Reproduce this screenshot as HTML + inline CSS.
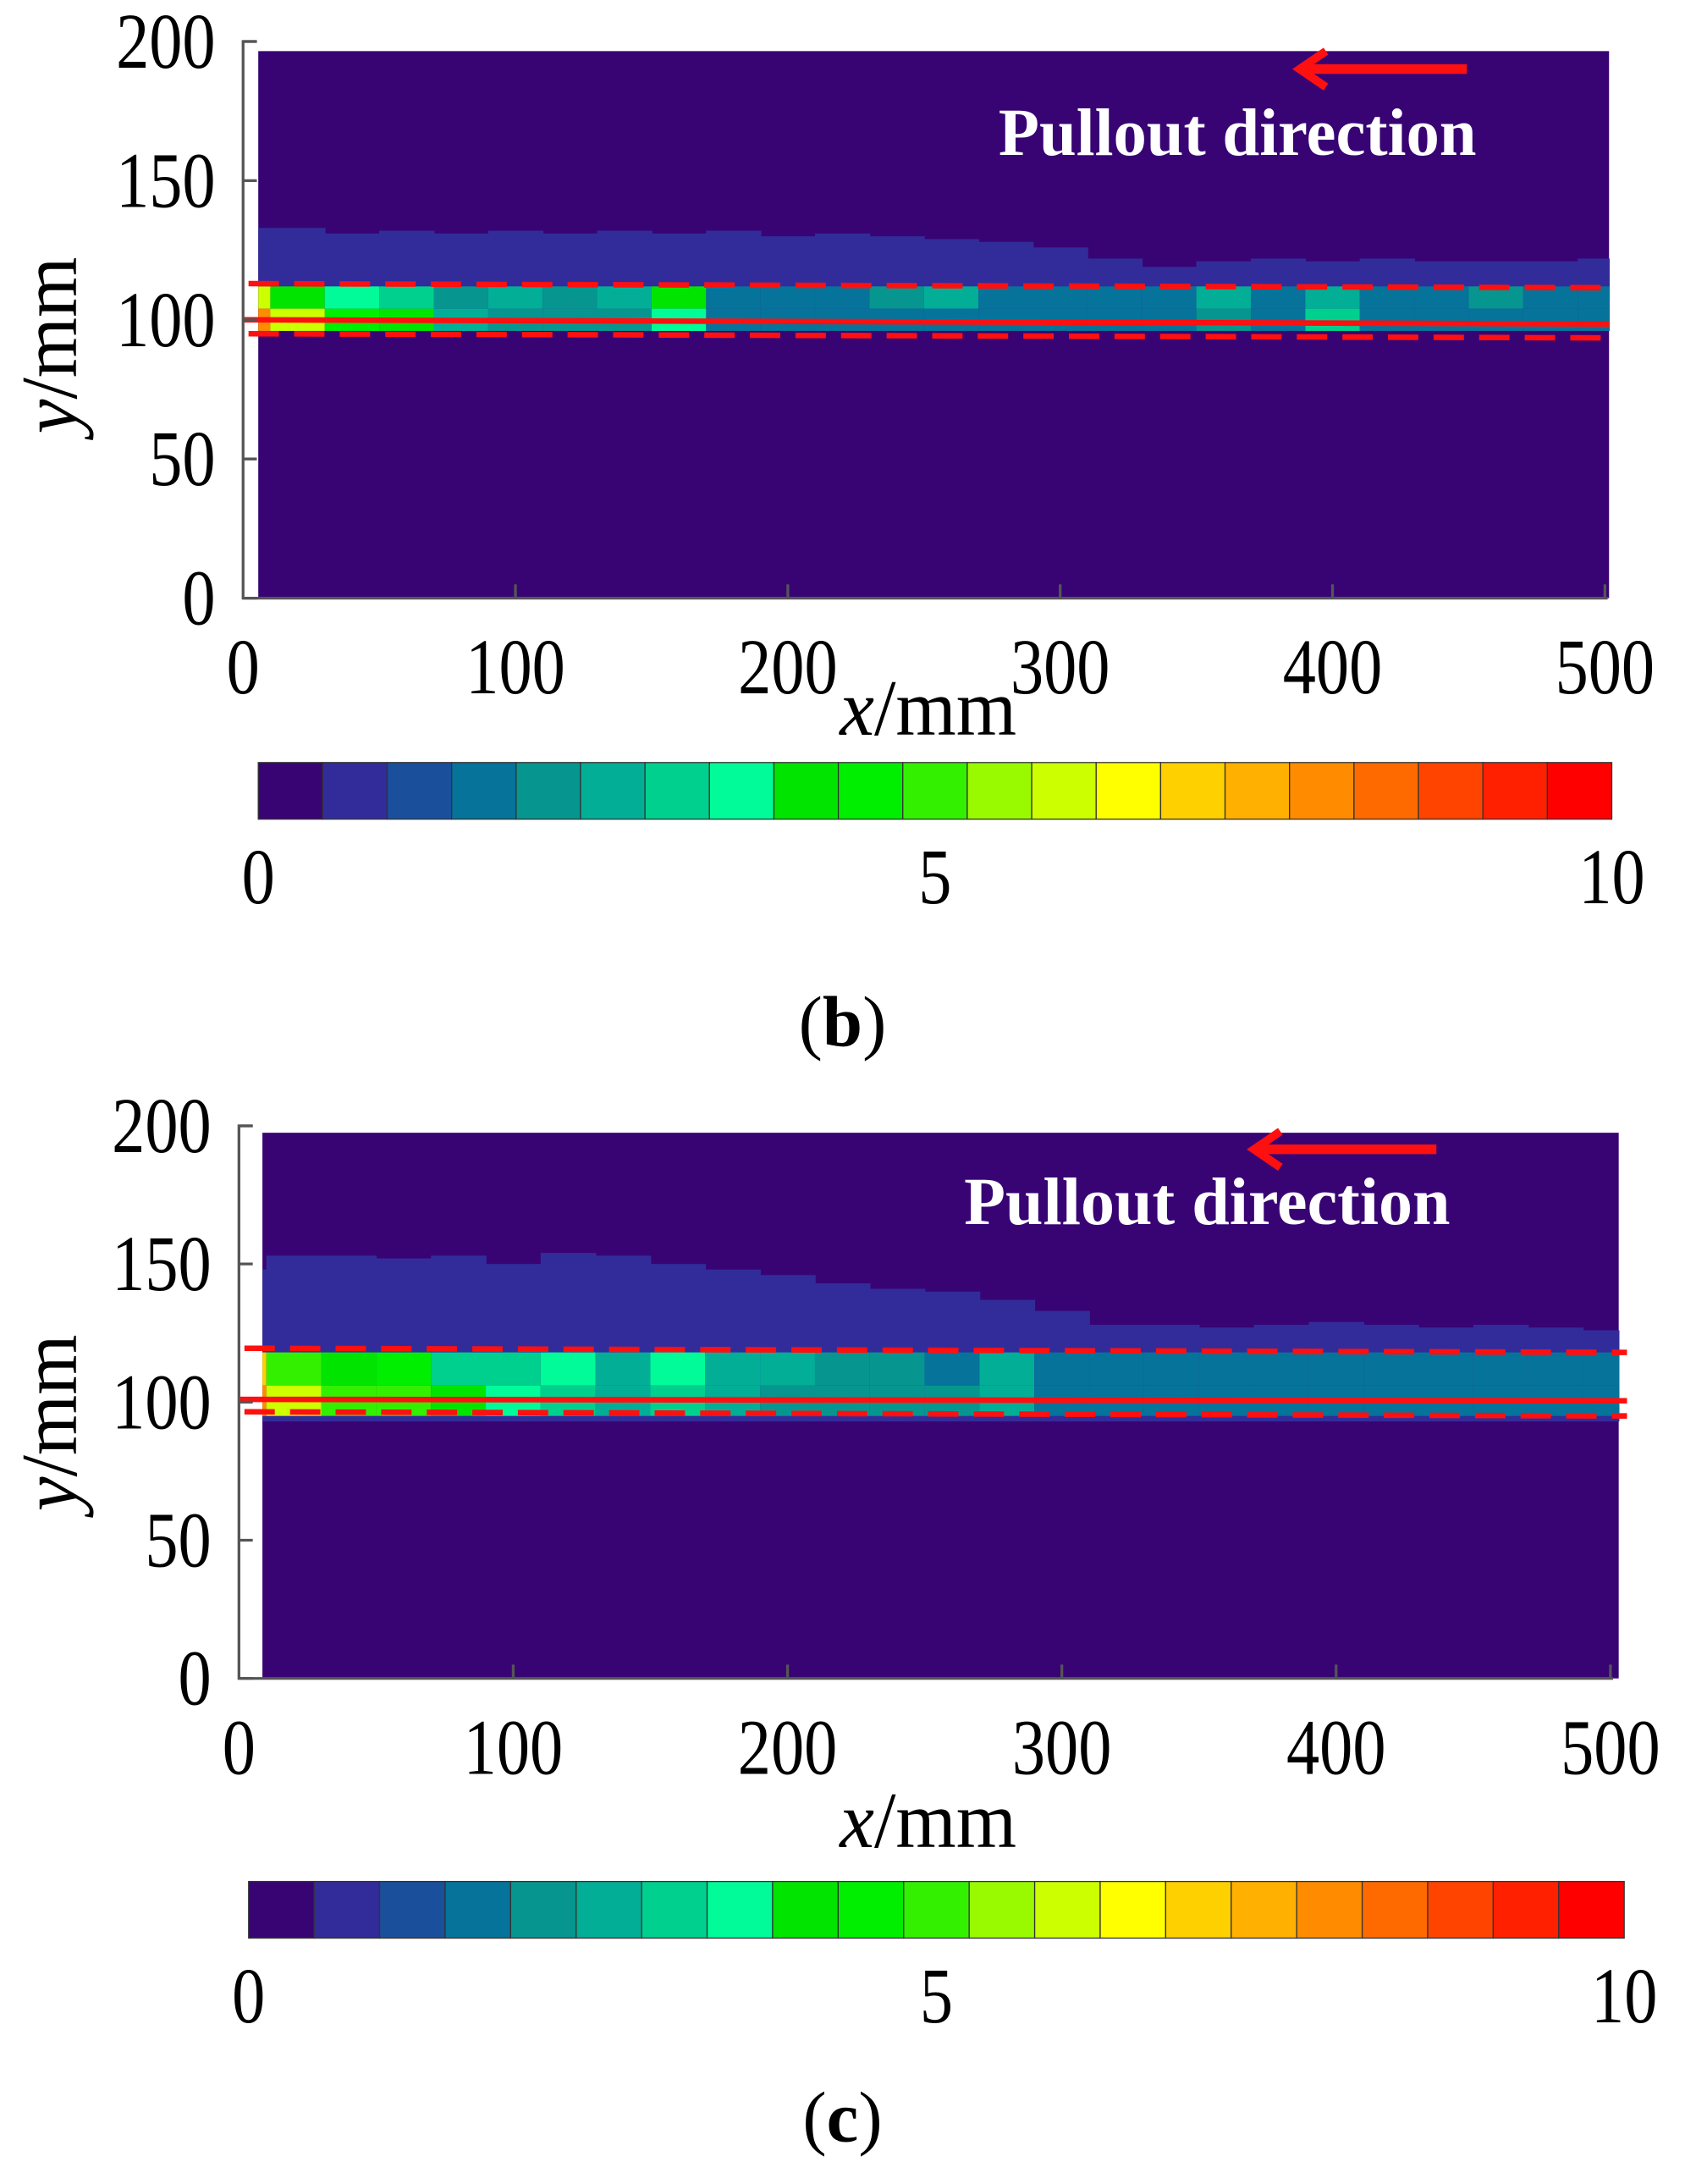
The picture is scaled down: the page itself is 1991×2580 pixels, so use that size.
<!DOCTYPE html>
<html><head><meta charset="utf-8"><style>
html,body{margin:0;padding:0;background:#fff;}
svg{display:block;}
text{font-family:"Liberation Serif",serif;}
</style></head><body>
<svg id="fig" width="1991" height="2580" viewBox="0 0 1220 1581" preserveAspectRatio="none" xmlns="http://www.w3.org/2000/svg"></svg>
<script>
// ---- data ----
const xCats = [0,20,40,60,80,100,120,140,160,180,200,220,240,260,280,300,320,340,360,380,400,420,440,460,480,500];
const yTicks = [0,50,100,150,200];
const xTicks = [0,100,200,300,400,500];
const cbTicks = [0,5,10];
const bandTopB = [133,133,131,132,131,132,131,132,131,132,130,131,130,129,128,126,122,119,121,122,121,122,121,121,121,122];
const coreUpperB = [6,4,3.5,3,2,2.5,2,2.5,4,1.5,1.5,1.5,2,2.5,1.5,1.5,1.5,1.5,2.5,1.5,2.5,1.5,1.5,2,1.5,1.5];
const coreLowerB = [8,6,4.5,4,2.5,2,2,2,3.5,1.5,1.5,1.5,1.5,1.5,1.5,1.5,1.5,1.5,2,1.5,3,1.5,1.5,1.5,1.5,1.5];
const bandTopC = [148,153,153,152,153,150,154,153,150,148,146,143,141,140,137,133,128,128,127,128,129,128,127,128,127,126];
const coreUpperC = [7,5,4,4.5,3,3,3.5,2.5,3.5,2.5,2.5,2,2,1.5,2.5,1.5,1.5,1.5,1.5,1.5,1.5,1.5,1.5,1.5,1.5,1.5];
const coreLowerC = [8,6,5,5,4,3.5,3,2.5,3,2.5,2,2,2,2,2.5,1.5,1.5,1.5,1.5,1.5,1.5,1.5,1.5,1.5,1.5,1.5];
const palette = ["#380474","#322c9a","#1a4f9c","#06739a","#06968f","#03ae97","#00d08e","#00fb98","#00e400","#00ee00","#33f000","#99fa00","#ccff00","#ffff00","#ffd000","#ffb000","#ff8c00","#ff6a00","#ff4400","#ff2000","#ff0000"];

const NS="http://www.w3.org/2000/svg";
const svg=document.getElementById('fig');
function mk(tag,attrs,parent){const e=document.createElementNS(NS,tag);for(const k in attrs)e.setAttribute(k,attrs[k]);(parent||svg).appendChild(e);return e;}
function col(v){return palette[Math.max(0,Math.min(20,Math.floor(v*2)))];}

function panel(cfg){
  const g=mk('g',{});
  
  
  const X=v=>cfg.ax+(v/500)*(cfg.x500-cfg.ax);
  const Y=v=>cfg.y0-(v/200)*(cfg.y0-cfg.y200);
  const bg=mk('rect',{x:cfg.fx0,y:cfg.fy0,width:cfg.fx1-cfg.fx0,height:cfg.y0-cfg.fy0,fill:palette[0]},g);
  
  
  const step=xCats[1]-xCats[0];
  for(let i=0;i<xCats.length;i++){
    const xa=Math.max(cfg.fx0,X(xCats[i]-step/2)), xb=Math.min(cfg.fx1,X(xCats[i]+step/2));
    const r1=mk('rect',{x:xa,y:Y(cfg.top[i]),width:xb-xa+0.5,height:Y(cfg.bandBot)-Y(cfg.top[i]),fill:palette[1]},g);
    
    
    const r2=mk('rect',{x:xa,y:Y(cfg.coreTop),width:xb-xa+0.5,height:Y(cfg.coreMid)-Y(cfg.coreTop),fill:col(cfg.up[i])},g);
    
    
    const r3=mk('rect',{x:xa,y:Y(cfg.coreMid),width:xb-xa+0.5,height:Y(cfg.coreBot)-Y(cfg.coreMid),fill:col(cfg.lo[i])},g);
    
    
  }
  const l1=mk('line',{x1:X(2),y1:Y(cfg.dU[0]),x2:cfg.lx1,y2:Y(cfg.dU[1]),stroke:'#ff1010','stroke-width':4,'stroke-dasharray':'22 11'},g);
  
  
  const l2=mk('line',{x1:X(2),y1:Y(cfg.dL[0]),x2:cfg.lx1,y2:Y(cfg.dL[1]),stroke:'#ff1010','stroke-width':4,'stroke-dasharray':'22 11'},g);
  
  
  const l3=mk('line',{x1:X(0),y1:Y(cfg.sL[0]),x2:cfg.lx1,y2:Y(cfg.sL[1]),stroke:'#ff1010','stroke-width':4},g);
  
  
  const ya=mk('polyline',{points:`${cfg.ax+10},${cfg.y200} ${cfg.ax},${cfg.y200} ${cfg.ax},${cfg.y0} ${cfg.x500+2},${cfg.y0}`,fill:'none',stroke:'#555','stroke-width':2},g);
  
  
  yTicks.forEach(v=>{
    const t=mk('line',{x1:cfg.ax,y1:Y(v),x2:cfg.ax+10,y2:Y(v),stroke:'#555','stroke-width':2},g);
    
    
    const s=String(v);
    const tx=mk('text',{x:cfg.ax-20,y:Y(v)+19,'text-anchor':'end','font-size':57,textLength:s.length*24,lengthAdjust:'spacingAndGlyphs',fill:'#000'},g);
    tx.textContent=s;
    
    
  });
  xTicks.forEach(v=>{
    if(v>0){const t=mk('line',{x1:X(v),y1:cfg.y0,x2:X(v),y2:cfg.y0-10,stroke:'#555','stroke-width':2},g);
    
    }
    const s=String(v);
    const tx=mk('text',{x:X(v),y:cfg.y0+69,'text-anchor':'middle','font-size':57,textLength:s.length*24,lengthAdjust:'spacingAndGlyphs',fill:'#000'},g);
    tx.textContent=s;
    
    
  });
  const xl=mk('text',{x:672,y:cfg.xlY,'text-anchor':'middle','font-size':58,textLength:128,lengthAdjust:'spacingAndGlyphs',fill:'#000'},g);
  xl.innerHTML='<tspan font-style="italic">x</tspan>/mm';
  
  
  const yl=mk('text',{x:0,y:0,'text-anchor':'middle','font-size':58,textLength:128,lengthAdjust:'spacingAndGlyphs',fill:'#000',transform:`translate(55,${cfg.ylY}) rotate(-90)`},g);
  yl.innerHTML='<tspan font-style="italic">y</tspan>/mm';
  
  
  const ar=mk('g',{},g);
  
  
  mk('line',{x1:cfg.arX1,y1:cfg.arY,x2:cfg.arX0+4,y2:cfg.arY,stroke:'#ff1010','stroke-width':7},ar);
  mk('polyline',{points:`${cfg.arX0+22},${cfg.arY-13} ${cfg.arX0+3},${cfg.arY} ${cfg.arX0+22},${cfg.arY+13}`,fill:'none',stroke:'#ff1010','stroke-width':6},ar);
  const pt=mk('text',{x:cfg.ptX,y:cfg.ptY,'font-size':49,'font-weight':'bold',fill:'#fff',textLength:cfg.ptW,lengthAdjust:'spacingAndGlyphs'},g);
  pt.textContent='Pullout direction';
  
  
  const cb=mk('g',{},g);
  
  
  const w=(cfg.cb1-cfg.cb0)/palette.length;
  palette.forEach((c,i)=>{
    const r=mk('rect',{x:cfg.cb0+i*w,y:cfg.cbY,width:w,height:cfg.cbH,fill:c,stroke:'#333','stroke-width':0.8},cb);
    
    
  });
  cbTicks.forEach(v=>{
    const s=String(v);
    const t=mk('text',{x:cfg.cb0+(v/10)*(cfg.cb1-cfg.cb0),y:cfg.cbLY,'text-anchor':'middle','font-size':57,textLength:s.length*24,lengthAdjust:'spacingAndGlyphs',fill:'#000'},cb);
    t.textContent=s;
    
    
  });
  const cap=mk('text',{x:610,y:cfg.capY,'text-anchor':'middle','font-size':52,fill:'#000'},g);
  cap.innerHTML='(<tspan font-weight="bold">'+cfg.cap+'</tspan>)';
  
  
}
panel({name:'panel-b',ax:176,x500:1162,y0:433,y200:30,fx0:187,fx1:1165,fy0:37,top:bandTopB,up:coreUpperB,lo:coreLowerB,bandBot:96,coreTop:112,coreMid:104,coreBot:96,
  dU:[113,111.5],dL:[95,93.5],sL:[100,98.5],lx1:1165,xlY:532,ylY:250,arX0:938,arX1:1062,arY:50,ptX:723,ptY:112,ptW:346,
  cb0:187,cb1:1167,cbY:552,cbH:41,cbLY:654,capY:757,cap:'b'});
panel({name:'panel-c',ax:173,x500:1166,y0:1215,y200:815,fx0:190,fx1:1172,fy0:820,top:bandTopC,up:coreUpperC,lo:coreLowerC,bandBot:93,coreTop:118,coreMid:106,coreBot:95,
  dU:[119.5,118],dL:[96.5,95],sL:[101,100.5],lx1:1178,xlY:1337,ylY:1030,arX0:905,arX1:1040,arY:832,ptX:698,ptY:886,ptW:352,
  cb0:180,cb1:1176,cbY:1362,cbH:41,cbLY:1464,capY:1550,cap:'c'});
</script>
</body></html>
